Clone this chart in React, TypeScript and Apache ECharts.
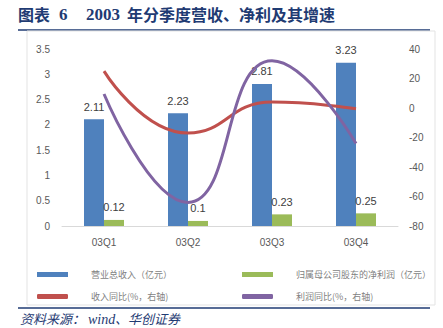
import React, { useEffect, useRef } from "react";
import * as echarts from "echarts";

const categories = ["03Q1", "03Q2", "03Q3", "03Q4"];
const revenue = [2.11, 2.23, 2.81, 3.23];
const netProfit = [0.12, 0.1, 0.23, 0.25];
const revenueYoY = [25, -17, 4, -0.5];
const profitYoY = [9.5, -64, 32, -24];
const seriesNames = ["营业总收入（亿元）", "归属母公司股东的净利润（亿元）", "收入同比(%，右轴)", "利润同比(%，右轴)"];

const BLUE = "#4F81BD";
const GREEN = "#9BBB59";
const RED = "#C0504D";
const PURPLE = "#8064A2";
const NAVY = "#1F3B73";
const CJK = "'Noto Sans CJK SC', 'Liberation Sans', sans-serif";
const NUM = "'Liberation Sans', 'Noto Sans CJK SC', sans-serif";

export default function App() {
  const ref = useRef<HTMLDivElement>(null);
  useEffect(() => {
    const chart = echarts.init(ref.current!, null, { renderer: "svg" });
    const legendText = { color: "#7f7f7f", fontSize: 9, fontFamily: CJK, padding: [0, 0, 0, 18] };
    const mkLegend = (name: string, left: number, top: number, icon: string) => ({
      left,
      top,
      itemWidth: 31,
      itemHeight: 5,
      icon,
      data: [name],
      textStyle: legendText,
      selectedMode: false,
    });
    const titleCJK = "bold 16px 'Noto Sans CJK SC', serif";
    const titleNum = "bold 17px 'Liberation Serif', serif";
    const srcCJK = "italic 13px 'Noto Sans CJK SC', serif";
    chart.setOption({
      animation: false,
      textStyle: { fontFamily: NUM },
      graphic: [
        { type: "text", left: 18, top: 6, style: { text: "图表", fill: NAVY, font: titleCJK } },
        { type: "text", left: 59, top: 6, style: { text: "6", fill: NAVY, font: titleNum } },
        { type: "text", left: 86, top: 6, style: { text: "2003", fill: NAVY, font: titleNum } },
        {
          type: "text",
          left: 127,
          top: 6,
          style: { text: "年分季度营收、净利及其增速", fill: NAVY, font: titleCJK },
        },
        { type: "line", shape: { x1: 18, y1: 30, x2: 430, y2: 30 }, style: { stroke: NAVY, lineWidth: 1.5 } },
        { type: "rect", shape: { x: 27, y: 31, width: 408, height: 274 }, style: { fill: "none", stroke: "#e3e3e3", lineWidth: 1 } },
        { type: "line", shape: { x1: 18, y1: 308, x2: 430, y2: 308 }, style: { stroke: NAVY, lineWidth: 1.5 } },
        { type: "text", left: 20, top: 312, style: { text: "资料来源：", fill: NAVY, font: srcCJK } },
        { type: "text", left: 88, top: 312, style: { text: "wind", fill: NAVY, font: "italic 14px 'Liberation Serif', serif" } },
        { type: "text", left: 115, top: 312, style: { text: "、华创证券", fill: NAVY, font: srcCJK } },
      ],
      legend: [
        mkLegend(seriesNames[0], 32, 265, "rect"),
        mkLegend(seriesNames[1], 237, 265, "rect"),
        mkLegend(seriesNames[2], 32, 287, "roundRect"),
        mkLegend(seriesNames[3], 237, 287, "roundRect"),
      ],
      grid: { left: 62, right: 45, top: 49, bottom: 102 },
      xAxis: {
        type: "category",
        data: categories,
        axisTick: { show: false },
        axisLine: { lineStyle: { color: "#d9d9d9" } },
        axisLabel: { color: "#595959", fontSize: 10, margin: 11 },
      },
      yAxis: [
        {
          type: "value",
          min: 0,
          max: 3.5,
          interval: 0.5,
          splitLine: { show: false },
          axisLine: { show: false },
          axisTick: { show: false },
          axisLabel: { color: "#595959", fontSize: 10, margin: 12 },
        },
        {
          type: "value",
          min: -80,
          max: 40,
          interval: 20,
          splitLine: { show: false },
          axisLine: { show: false },
          axisTick: { show: false },
          axisLabel: { color: "#595959", fontSize: 10, margin: 11 },
        },
      ],
      series: [
        {
          name: seriesNames[0],
          type: "bar",
          data: revenue,
          barWidth: 20,
          barGap: "0%",
          itemStyle: { color: BLUE },
          label: { show: true, position: "top", color: "#404040", fontSize: 11, distance: 7 },
        },
        {
          name: seriesNames[1],
          type: "bar",
          data: netProfit,
          barWidth: 20,
          barGap: "0%",
          itemStyle: { color: GREEN },
          label: { show: true, position: "top", color: "#404040", fontSize: 11, distance: 7 },
        },
        {
          name: seriesNames[2],
          type: "line",
          yAxisIndex: 1,
          data: revenueYoY,
          smooth: 0.5,
          showSymbol: false,
          symbol: "none",
          lineStyle: { color: RED, width: 3 },
          itemStyle: { color: RED },
        },
        {
          name: seriesNames[3],
          type: "line",
          yAxisIndex: 1,
          data: profitYoY,
          smooth: 0.5,
          showSymbol: false,
          symbol: "none",
          lineStyle: { color: PURPLE, width: 3 },
          itemStyle: { color: PURPLE },
        },
      ],
    });
    return () => chart.dispose();
  }, []);
  return <div ref={ref} style={{ position: "absolute", left: 0, top: 0, width: 443, height: 328, background: "#fff" }} />;
}
